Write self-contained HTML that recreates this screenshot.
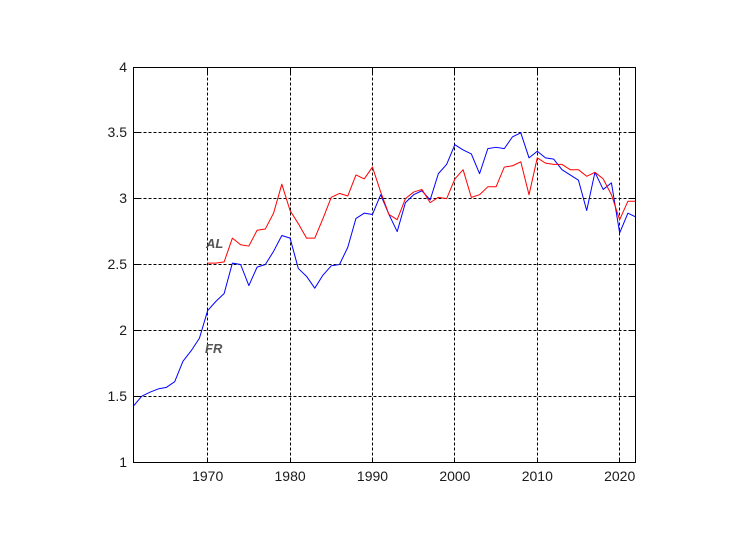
<!DOCTYPE html>
<html>
<head>
<meta charset="utf-8">
<style>
html,body{margin:0;padding:0;background:#fff;}
svg{display:block;}
text{font-family:"Liberation Sans",Arial,sans-serif;}
</style>
</head>
<body>
<svg width="754" height="545" viewBox="0 0 754 545" xmlns="http://www.w3.org/2000/svg">
<rect x="0" y="0" width="754" height="545" fill="#fff"/>
<rect x="133.5" y="67.5" width="502" height="395" fill="#fff"/>
<!-- grid -->
<g stroke="#000" stroke-width="1" stroke-dasharray="3,2" fill="none">
<line x1="207.5" y1="67.5" x2="207.5" y2="462.5"/>
<line x1="290.5" y1="67.5" x2="290.5" y2="462.5"/>
<line x1="372.5" y1="67.5" x2="372.5" y2="462.5"/>
<line x1="454.5" y1="67.5" x2="454.5" y2="462.5"/>
<line x1="537.5" y1="67.5" x2="537.5" y2="462.5"/>
<line x1="619.5" y1="67.5" x2="619.5" y2="462.5"/>
<line x1="133.5" y1="396.5" x2="635.5" y2="396.5"/>
<line x1="133.5" y1="330.5" x2="635.5" y2="330.5"/>
<line x1="133.5" y1="264.5" x2="635.5" y2="264.5"/>
<line x1="133.5" y1="198.5" x2="635.5" y2="198.5"/>
<line x1="133.5" y1="132.5" x2="635.5" y2="132.5"/>
</g>
<!-- ticks -->
<g stroke="#000" stroke-width="1">
<line x1="207.5" y1="462.5" x2="207.5" y2="457.5"/><line x1="207.5" y1="67.5" x2="207.5" y2="72.5"/>
<line x1="290.5" y1="462.5" x2="290.5" y2="457.5"/><line x1="290.5" y1="67.5" x2="290.5" y2="72.5"/>
<line x1="372.5" y1="462.5" x2="372.5" y2="457.5"/><line x1="372.5" y1="67.5" x2="372.5" y2="72.5"/>
<line x1="454.5" y1="462.5" x2="454.5" y2="457.5"/><line x1="454.5" y1="67.5" x2="454.5" y2="72.5"/>
<line x1="537.5" y1="462.5" x2="537.5" y2="457.5"/><line x1="537.5" y1="67.5" x2="537.5" y2="72.5"/>
<line x1="619.5" y1="462.5" x2="619.5" y2="457.5"/><line x1="619.5" y1="67.5" x2="619.5" y2="72.5"/>
<line x1="133.5" y1="396.5" x2="138.5" y2="396.5"/><line x1="635.5" y1="396.5" x2="630.5" y2="396.5"/>
<line x1="133.5" y1="330.5" x2="138.5" y2="330.5"/><line x1="635.5" y1="330.5" x2="630.5" y2="330.5"/>
<line x1="133.5" y1="264.5" x2="138.5" y2="264.5"/><line x1="635.5" y1="264.5" x2="630.5" y2="264.5"/>
<line x1="133.5" y1="198.5" x2="138.5" y2="198.5"/><line x1="635.5" y1="198.5" x2="630.5" y2="198.5"/>
<line x1="133.5" y1="132.5" x2="138.5" y2="132.5"/><line x1="635.5" y1="132.5" x2="630.5" y2="132.5"/>
</g>
<defs><clipPath id="c"><rect x="133.5" y="67.5" width="502" height="395"/></clipPath></defs>
<g clip-path="url(#c)">
<g transform="translate(133.5,462) scale(8.24,-131.67)" fill="none">
<polyline vector-effect="non-scaling-stroke" stroke="#0000ff" stroke-width="1" stroke-linejoin="round" points="
0,0.425 1,0.50 2,0.53 3,0.555 4,0.567 5,0.61 6,0.765 7,0.845 8,0.94 9,1.15 10,1.22 11,1.28 12,1.51 13,1.50 14,1.34 15,1.48 16,1.50 17,1.60 18,1.72 19,1.70
20,1.47 21,1.41 22,1.32 23,1.42 24,1.49 25,1.50 26,1.63 27,1.85 28,1.89 29,1.88 30,2.03 31,1.88 32,1.75 33,1.97 34,2.03 35,2.06 36,1.99 37,2.19 38,2.26 39,2.41
40,2.37 41,2.34 42,2.19 43,2.38 44,2.39 45,2.38 46,2.47 47,2.50 48,2.31 49,2.36 50,2.31 51,2.30 52,2.22 53,2.18 54,2.14 55,1.91 56,2.20 57,2.07 58,2.12 59,1.74 60,1.89 61,1.86"/>
<polyline vector-effect="non-scaling-stroke" stroke="#ff0000" stroke-width="1" stroke-linejoin="round" points="
9,1.51 10,1.51 11,1.52 12,1.70 13,1.65 14,1.64 15,1.76 16,1.77 17,1.89 18,2.11 19,1.91 20,1.81 21,1.70 22,1.70 23,1.85 24,2.01 25,2.04 26,2.02 27,2.18 28,2.15 29,2.24
30,2.05 31,1.88 32,1.84 33,2.00 34,2.05 35,2.07 36,1.97 37,2.01 38,2.00 39,2.15 40,2.22 41,2.01 42,2.03 43,2.09 44,2.09 45,2.24 46,2.25 47,2.28 48,2.03 49,2.31
50,2.27 51,2.26 52,2.26 53,2.22 54,2.22 55,2.17 56,2.20 57,2.15 58,2.03 59,1.84 60,1.98 61,1.98"/>
</g>
</g>
<!-- box -->
<rect x="133.5" y="67.5" width="502" height="395" fill="none" stroke="#000" stroke-width="1"/>
<!-- annotations -->
<text x="206" y="248" font-size="13" font-style="italic" font-weight="bold" fill="#555">AL</text>
<text x="205" y="353" font-size="13" font-style="italic" font-weight="bold" fill="#555">FR</text>
<!-- y labels -->
<g font-size="14" fill="#1a1a1a" text-anchor="end">
<text x="127" y="467">1</text>
<text x="127" y="401">1.5</text>
<text x="127" y="335">2</text>
<text x="127" y="269">2.5</text>
<text x="127" y="203">3</text>
<text x="127" y="137">3.5</text>
<text x="127" y="72">4</text>
</g>
<!-- x labels -->
<g font-size="14" fill="#1a1a1a" text-anchor="middle">
<text x="207.7" y="481">1970</text>
<text x="290.1" y="481">1980</text>
<text x="372.5" y="481">1990</text>
<text x="454.9" y="481">2000</text>
<text x="537.3" y="481">2010</text>
<text x="619.7" y="481">2020</text>
</g>
</svg>
</body>
</html>
